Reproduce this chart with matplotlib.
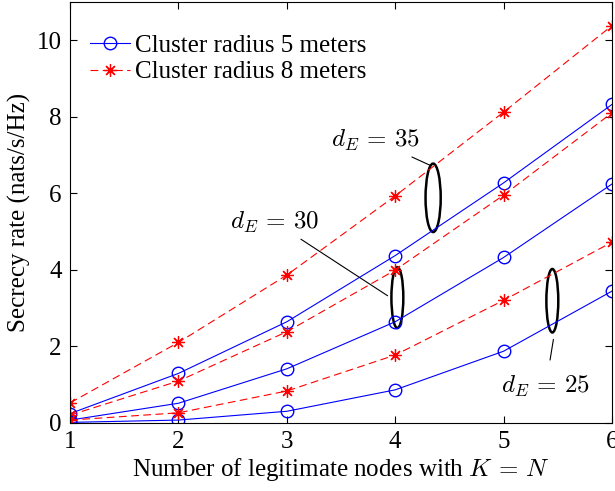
import matplotlib
matplotlib.use("Agg")
import matplotlib.pyplot as plt
from matplotlib.patches import Ellipse

plt.rcParams['font.family'] = ['Liberation Serif', 'DejaVu Serif']
plt.rcParams['mathtext.fontset'] = 'cm'

nodes = [1, 2, 3, 4, 5, 6]

# blue: cluster radius 5 m, red: cluster radius 8 m
r5_d35 = [0.24, 1.29, 2.64, 4.37, 6.27, 8.32]
r5_d30 = [0.07, 0.51, 1.41, 2.64, 4.32, 6.24]
r5_d25 = [0.01, 0.07, 0.30, 0.86, 1.87, 3.44]
r8_d35 = [0.52, 2.10, 3.86, 5.93, 8.12, 10.38]
r8_d30 = [0.20, 1.09, 2.38, 3.99, 5.95, 8.10]
r8_d25 = [0.07, 0.26, 0.83, 1.77, 3.20, 4.72]

star = (8, 2, 0)
fig = plt.figure(figsize=(6.15, 4.91), dpi=100)
ax = fig.add_axes([0.114, 0.139, 0.881, 0.857])

ax.plot(nodes, r5_d35, 'b-', marker='o', mfc='none', ms=9, lw=0.8, label='Cluster radius 5 meters')
ax.plot(nodes, r8_d35, 'r--', marker=star, ms=9, mew=0.9, lw=0.8, dashes=(7, 4), label='Cluster radius 8 meters')
ax.plot(nodes, r5_d30, 'b-', marker='o', mfc='none', ms=9, lw=0.8)
ax.plot(nodes, r8_d30, 'r--', marker=star, ms=9, mew=0.9, lw=0.8, dashes=(7, 4))
ax.plot(nodes, r5_d25, 'b-', marker='o', mfc='none', ms=9, lw=0.8)
ax.plot(nodes, r8_d25, 'r--', marker=star, ms=9, mew=0.9, lw=0.8, dashes=(7, 4))

# ellipses grouping the d_E pairs
ax.add_patch(Ellipse((4.35, 5.88), 0.14, 1.79, fill=False, ec='k', lw=1.8))
ax.add_patch(Ellipse((4.02, 3.27), 0.11, 1.59, fill=False, ec='k', lw=1.8))
ax.add_patch(Ellipse((5.45, 3.19), 0.11, 1.66, fill=False, ec='k', lw=1.8))

ax.annotate(r'$d_E\,=\,35$', xy=(4.33, 6.72), xytext=(3.41, 7.38), fontsize=18,
            va='center', arrowprops=dict(arrowstyle='-', color='k', lw=0.8, shrinkA=2, shrinkB=0))
ax.annotate(r'$d_E\,=\,30$', xy=(3.93, 3.32), xytext=(2.48, 5.24), fontsize=18,
            va='center', arrowprops=dict(arrowstyle='-', color='k', lw=0.8, shrinkA=2, shrinkB=0))
ax.annotate(r'$d_E\,=\,25$', xy=(5.46, 2.18), xytext=(4.98, 0.95), fontsize=18,
            va='center', arrowprops=dict(arrowstyle='-', color='k', lw=0.8, shrinkA=8, shrinkB=0))

ax.set_xlim(1, 6)
ax.set_ylim(0, 11)
ax.set_yticks([0, 2, 4, 6, 8, 10])
ax.tick_params(direction='in', top=True, right=True, labelsize=18, length=5, pad=6)
ax.set_xlabel(r'Number of legitimate nodes with $K\,=\,N$', fontsize=18, labelpad=2)
ax.set_ylabel('Secrecy rate (nats/s/Hz)', fontsize=18, labelpad=4)
ax.legend(loc='upper left', bbox_to_anchor=(0.0, 0.97), frameon=False, fontsize=18,
          handlelength=1.6, borderaxespad=0.4, labelspacing=0.15, handletextpad=0.2)

fig.savefig('out.png', dpi=100)
